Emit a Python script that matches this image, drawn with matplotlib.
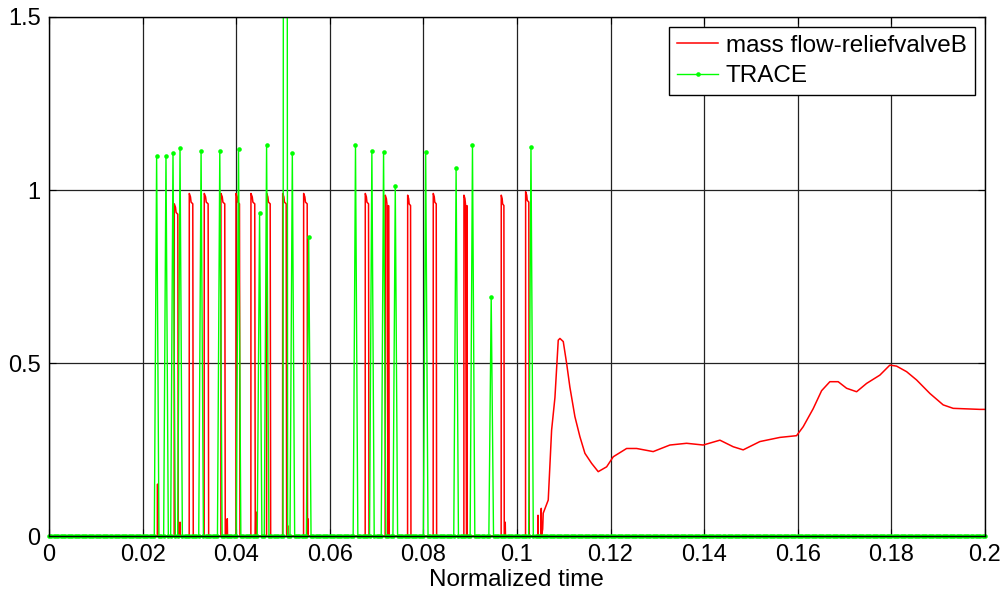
import numpy as np
import matplotlib
matplotlib.use('Agg')
import matplotlib.pyplot as plt
from matplotlib.transforms import Bbox

plt.rcParams['font.family'] = ['Liberation Sans', 'DejaVu Sans']

# --- datos ---
# pulsos de la valvula (inicio, fin, altura)
pulse_start = [0.02677, 0.02998, 0.03318, 0.03675, 0.03996, 0.04316, 0.04652, 0.04994,
               0.05442, 0.06759, 0.07186, 0.07665, 0.08212, 0.08868, 0.09665, 0.10186]
pulse_end = [0.02763, 0.03083, 0.03412, 0.03767, 0.04081, 0.04408, 0.04737, 0.05079,
             0.05528, 0.06838, 0.07265, 0.07735, 0.08284, 0.08938, 0.09729, 0.10263]
pulse_top = [0.96, 0.99, 0.99, 0.99, 0.99, 0.99, 0.99, 0.99,
             0.99, 0.99, 0.985, 0.985, 0.99, 0.985, 0.985, 0.995]

# pequenos picos en la base (tiempo, valor)
blip_t = [0.0232, 0.0280, 0.0381, 0.0442, 0.0510, 0.0553, 0.0725, 0.0893, 0.0975, 0.1045, 0.1052]
blip_v = [0.15, 0.04, 0.05, 0.07, 0.03, 0.05, 0.05, 0.10, 0.04, 0.06, 0.08]

# parte final continua
tail_t = [0.1055, 0.10562, 0.10669, 0.10741, 0.10812, 0.10883, 0.10919, 0.1099, 0.11062,
          0.11132, 0.11239, 0.11346, 0.11453, 0.11596, 0.11737, 0.11917, 0.12058, 0.12344,
          0.12558, 0.12912, 0.13269, 0.13626, 0.13981, 0.14338, 0.14622, 0.14835, 0.15192,
          0.1562, 0.15976, 0.16118, 0.16331, 0.16511, 0.16688, 0.16865, 0.17045, 0.17259,
          0.17472, 0.17756, 0.1797, 0.18113, 0.18327, 0.18541, 0.18825, 0.19109, 0.19323,
          0.19893, 0.2]
tail_v = [0.02, 0.066, 0.104, 0.306, 0.40, 0.566, 0.571, 0.562, 0.499,
          0.43, 0.345, 0.287, 0.239, 0.21, 0.186, 0.20, 0.229, 0.253,
          0.253, 0.244, 0.263, 0.268, 0.263, 0.277, 0.258, 0.249, 0.273,
          0.285, 0.29, 0.316, 0.368, 0.42, 0.446, 0.446, 0.427, 0.417,
          0.441, 0.465, 0.494, 0.491, 0.475, 0.451, 0.412, 0.379, 0.369,
          0.366, 0.366]

# TRACE: muestreo cada 0.0005, picos (tiempo, valor)
trace_dt = 0.0005
peak_t = [0.023, 0.025, 0.0265, 0.028, 0.0325, 0.0365, 0.0405, 0.045, 0.0465, 0.0505,
          0.052, 0.0555, 0.0655, 0.069, 0.0715, 0.074, 0.0805, 0.087, 0.0905, 0.0945, 0.103]
peak_v = [1.098, 1.098, 1.108, 1.12, 1.114, 1.114, 1.118, 0.933, 1.13, 10.0,
          1.108, 0.865, 1.13, 1.114, 1.111, 1.013, 1.111, 1.063, 1.13, 0.691, 1.124]

# --- construir curva roja ---
pts = [(0.0, 0.0)]
for t, v in zip(blip_t, blip_v):
    pts += [(t - 0.00005, 0.0), (t, v), (t + 0.00005, 0.0)]
for t0, t1, h in zip(pulse_start, pulse_end, pulse_top):
    w = t1 - t0
    pts += [(t0 - 0.00002, 0.0), (t0, h), (t0 + 0.3 * w, h - 0.01),
            (t0 + 0.45 * w, h - 0.025), (t1 - 0.12 * w, h - 0.03), (t1, 0.0)]
pts += list(zip(tail_t, tail_v))
pts.sort()
red_t = [p[0] for p in pts]
red_v = [p[1] for p in pts]

# --- construir TRACE ---
trace_t = np.arange(0, 0.2 + trace_dt / 2, trace_dt)
trace_v = np.zeros_like(trace_t)
for t, v in zip(peak_t, peak_v):
    trace_v[int(round(t / trace_dt))] = v

fig = plt.figure(figsize=(10.02, 5.94), dpi=100)
ax = fig.add_axes([0.0489, 0.0976, 0.934, 0.8738])

ax.plot(red_t, red_v, color='#ff0000', lw=1.1, label='mass flow-reliefvalveB')
green, = ax.plot(trace_t, trace_v, color='#00ff00', lw=1.0, marker='o', markersize=3.3,
                 markeredgewidth=0, label='TRACE')

ax.set_xlim(0, 0.2)
ax.set_ylim(0, 1.5)
ax.set_xticks([0, 0.02, 0.04, 0.06, 0.08, 0.1, 0.12, 0.14, 0.16, 0.18, 0.2])
ax.set_xticklabels(['0', '0.02', '0.04', '0.06', '0.08', '0.1', '0.12', '0.14', '0.16', '0.18', '0.2'])
ax.set_yticks([0, 0.5, 1, 1.5])
ax.set_yticklabels(['0', '0.5', '1', '1.5'])
ax.grid(True, color='#222222', lw=0.9, ls='-')
ax.tick_params(direction='in', length=5, top=True, right=True, labelsize=17, pad=6)
for s in ax.spines.values():
    s.set_linewidth(1.0)
ax.set_xlabel('Normalized time', fontsize=17.5, labelpad=2)

leg = ax.legend(loc='upper right', bbox_to_anchor=(0.989, 0.981), borderaxespad=0,
                fontsize=17.5, fancybox=False, edgecolor='black', framealpha=1,
                handlelength=1.7, handletextpad=0.3, labelspacing=0.35, borderpad=0.33)
leg.get_frame().set_linewidth(1.0)

# los puntos de la base se ven enteros, pero el pico alto se corta arriba
fig.canvas.draw()
b = ax.bbox.frozen()
green.set_clip_box(Bbox.from_extents(b.x0 - 4, b.y0 - 4, b.x1 + 4, b.y1))

plt.savefig('out.png', dpi=100)
